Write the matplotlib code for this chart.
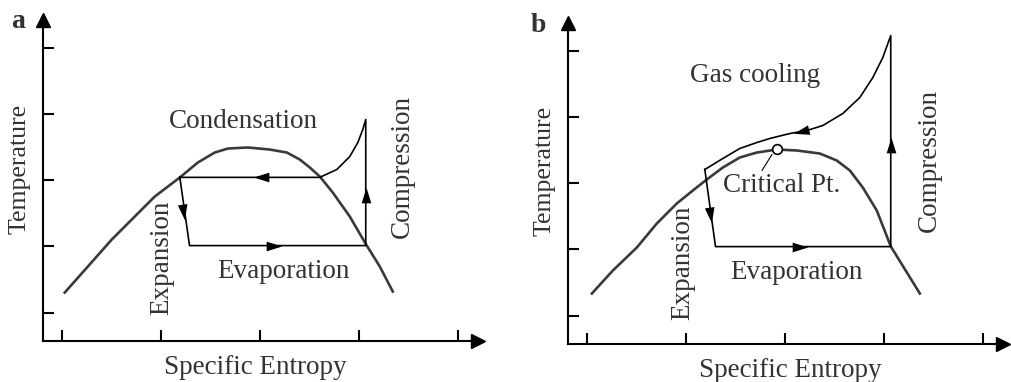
import matplotlib
matplotlib.use("Agg")
import matplotlib.pyplot as plt
from matplotlib.markers import MarkerStyle
from matplotlib.path import Path
from matplotlib.transforms import Affine2D

plt.rcParams["font.family"] = ["Liberation Serif", "DejaVu Serif"]

TEXT = "#333333"
DOME = "#3a3a3a"
FS = 19.5

ticks = [1, 2, 3, 4, 5]

# ---- panel a: subcritical cycle ----
dome_a_s = [1.030, 1.263, 1.505, 1.737, 1.939, 2.192, 2.374, 2.545, 2.677, 2.879,
            3.101, 3.273, 3.404, 3.505, 3.606, 3.737, 3.909, 4.061, 4.212, 4.343]
dome_a_t = [1.302, 1.694, 2.102, 2.449, 2.751, 3.038, 3.264, 3.415, 3.475, 3.491,
            3.460, 3.415, 3.309, 3.189, 3.053, 2.811, 2.449, 2.057, 1.694, 1.317]

# expansion -> evaporation -> compression -> desuperheating -> condensation
cycle_a_s = [2.192, 2.29, 4.07, 4.07, 4.040, 3.990, 3.909, 3.778, 3.606, 2.192]
cycle_a_t = [3.04, 2.01, 2.01, 3.913, 3.762, 3.566, 3.355, 3.159, 3.04, 3.04]

# arrowheads: entropy, temperature, direction (deg)
arrows_a = [(3.03, 3.04, 180), (2.22, 2.55, -82), (3.12, 2.01, 0), (4.07, 2.74, 90)]

labels_a = [("Condensation", 2.83, 3.88, 0),
            ("Evaporation", 3.24, 1.62, 0),
            ("Expansion", 2.01, 1.83, 90),
            ("Compression", 4.44, 3.20, 90)]

# ---- panel b: transcritical cycle ----
dome_b_s = [1.051, 1.263, 1.505, 1.707, 1.909, 2.071, 2.212, 2.374, 2.545, 2.717,
            2.919, 3.121, 3.354, 3.525, 3.657, 3.788, 3.929, 4.071, 4.364]
dome_b_t = [1.332, 1.679, 2.026, 2.389, 2.691, 2.887, 3.053, 3.234, 3.385, 3.460,
            3.506, 3.491, 3.445, 3.340, 3.189, 2.932, 2.585, 2.042, 1.332]

cycle_b_s = [2.192, 2.30, 4.07, 4.07, 3.990, 3.889, 3.758, 3.586, 3.384, 3.222,
             3.051, 2.848, 2.717, 2.545, 2.374, 2.192]
cycle_b_t = [3.204, 2.04, 2.04, 5.226, 4.894, 4.592, 4.291, 4.049, 3.868, 3.792,
             3.747, 3.672, 3.611, 3.521, 3.370, 3.204]

arrows_b = [(3.18, 3.79, 194), (2.24, 2.55, -82), (3.13, 2.04, 0), (4.07, 3.54, 90)]

crit_s, crit_t = 2.92, 3.52
leader_s = [2.87, 2.77]
leader_t = [3.43, 3.19]

labels_b = [("Gas cooling", 2.70, 4.62, 0),
            ("Critical Pt.", 2.97, 2.96, 0),
            ("Evaporation", 3.12, 1.65, 0),
            ("Expansion", 1.97, 1.80, 90),
            ("Compression", 4.46, 3.34, 90)]

XLIM = (0.81, 5.2)
YLIM = (0.57, 5.42)
PX_S, PX_T = 99, 66.25  # pixels per unit
W, H = 1011, 382

head = Path([(1, 0), (-0.6, 0.5), (-0.6, -0.5), (1, 0)],
            [Path.MOVETO, Path.LINETO, Path.LINETO, Path.CLOSEPOLY])


def make_axes(fig, left_px, axis_px):
    w = (XLIM[1] - XLIM[0]) * PX_S
    h = (YLIM[1] - YLIM[0]) * PX_T
    ax = fig.add_axes([left_px / W, (H - axis_px) / H, w / W, h / H])
    ax.set_xlim(*XLIM)
    ax.set_ylim(*YLIM)
    for side in ("top", "right"):
        ax.spines[side].set_visible(False)
    for side in ("left", "bottom"):
        ax.spines[side].set_linewidth(1.5)
    ax.set_xticks(ticks)
    ax.set_yticks(ticks)
    ax.tick_params(direction="in", length=8, width=1.5,
                   labelbottom=False, labelleft=False)
    ax.patch.set_alpha(0)
    ax.plot(1, 0, ">k", ms=10, transform=ax.transAxes, clip_on=False)
    ax.plot(0, 1, "^k", ms=10, transform=ax.transAxes, clip_on=False)
    return ax


def draw_panel(ax, dome_s, dome_t, cyc_s, cyc_t, arrows, labels, xl, yl):
    ax.plot(dome_s, dome_t, color=DOME, lw=1.9, solid_joinstyle="round")
    ax.plot(cyc_s, cyc_t, color="black", lw=1.2, solid_joinstyle="round")
    for s, t, ang in arrows:
        m = MarkerStyle(head, transform=Affine2D().rotate_deg(ang))
        ax.plot(s, t, marker=m, ms=14, color="black", mew=0)
    for txt, s, t, rot in labels:
        ax.text(s, t, txt, rotation=rot, ha="center", va="center",
                fontsize=FS, color=TEXT)
    ax.text(xl[0], xl[1], "Specific Entropy", transform=ax.transAxes,
            ha="center", va="center", fontsize=FS, color=TEXT)
    ax.text(yl[0], yl[1], "Temperature", transform=ax.transAxes, rotation=90,
            ha="center", va="center", fontsize=18.5, color=TEXT)


fig = plt.figure(figsize=(W / 100, H / 100), dpi=100)

ax_a = make_axes(fig, 43, 341)
draw_panel(ax_a, dome_a_s, dome_a_t, cycle_a_s, cycle_a_t, arrows_a, labels_a,
           (0.488, -0.084), (-0.055, 0.535))

ax_b = make_axes(fig, 568, 344)
draw_panel(ax_b, dome_b_s, dome_b_t, cycle_b_s, cycle_b_t, arrows_b, labels_b,
           (0.511, -0.081), (-0.055, 0.54))
ax_b.plot(leader_s, leader_t, color="black", lw=0.8)
ax_b.plot(crit_s, crit_t, "o", ms=7, mfc="white", mec="black", mew=1.2)

fig.text(18 / W, 1 - 21 / H, "a", fontsize=20, fontweight="bold",
         color=TEXT, ha="center", va="center")
fig.text(538 / W, 1 - 25 / H, "b", fontsize=20, fontweight="bold",
         color=TEXT, ha="center", va="center")

fig.savefig("out.png", dpi=100)
